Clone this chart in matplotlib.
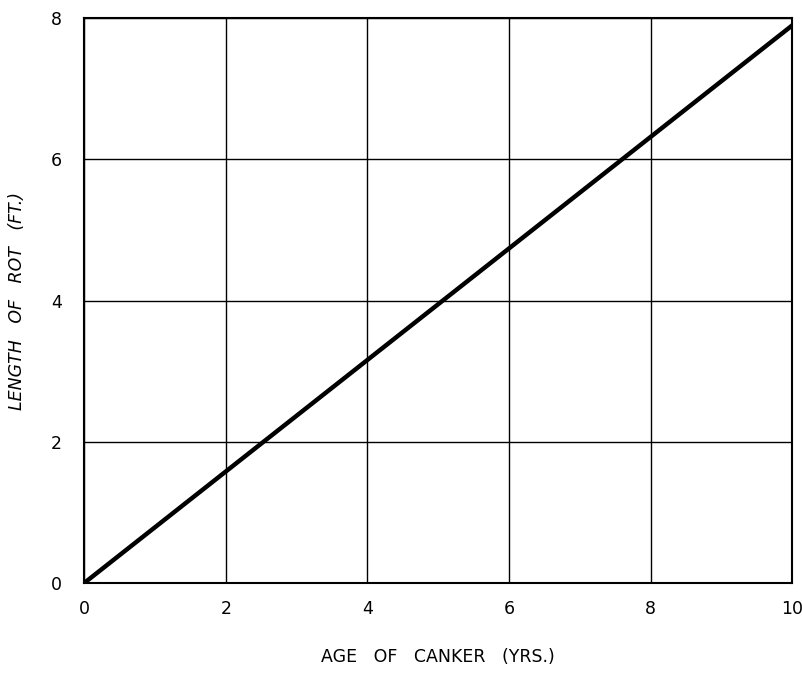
import numpy as np
import matplotlib
matplotlib.use("Agg")
import matplotlib.pyplot as plt

# data
age = [0, 10]          # years
rot_length = [0, 7.9]  # feet
x_ticks = [0, 2, 4, 6, 8, 10]
y_ticks = [0, 2, 4, 6, 8]

plt.rcParams['font.family'] = ['DejaVu Sans']

fig = plt.figure(figsize=(8.02, 6.74), dpi=100)
ax = fig.add_axes([0.105, 0.135, 0.883, 0.838])

ax.plot(age, rot_length, color='black', lw=3.2, solid_capstyle='butt')

ax.set_xlim(0, 10)
ax.set_ylim(0, 8)
ax.set_xticks(x_ticks)
ax.set_yticks(y_ticks)
ax.set_xticklabels([str(t) for t in x_ticks], fontsize=12.5)
ax.set_yticklabels([str(t) for t in y_ticks], fontsize=12.5)
ax.tick_params(length=0, pad=12)
ax.tick_params(axis='y', pad=16)
ax.grid(True, color='black', lw=1.0)
for s in ax.spines.values():
    s.set_linewidth(1.5)

ax.set_xlabel('AGE   OF   CANKER   (YRS.)', fontsize=12.5, labelpad=22)
ax.set_ylabel('LENGTH   OF   ROT   (FT.)', fontsize=12.5, style='italic', labelpad=18)

fig.savefig('out.png', dpi=100)
